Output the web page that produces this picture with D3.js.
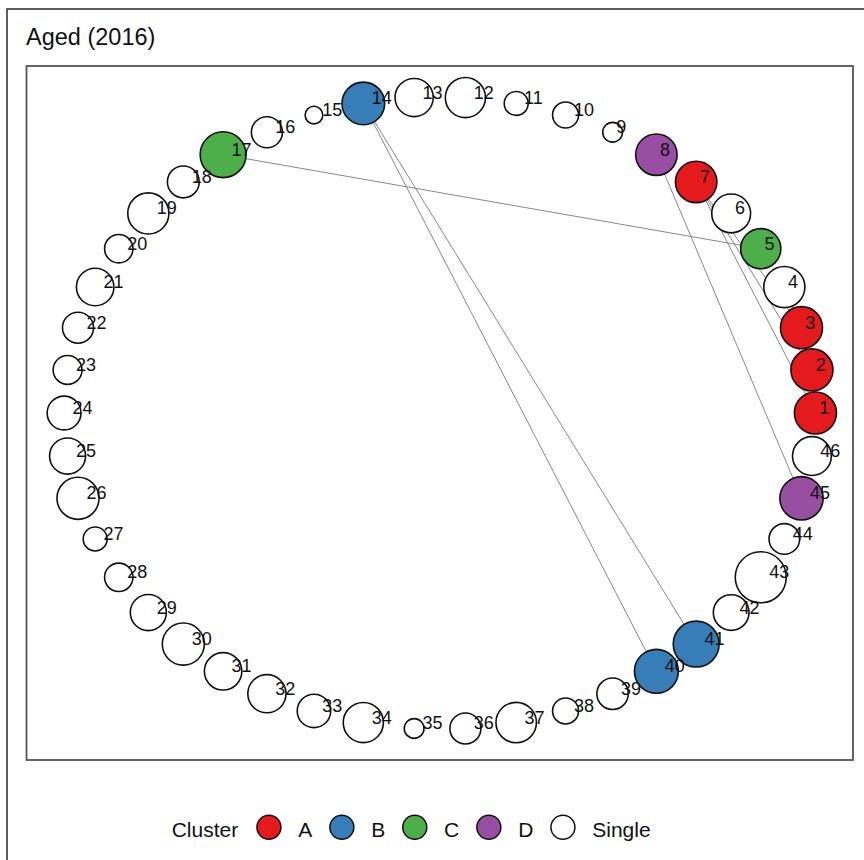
<!DOCTYPE html>
<html>
<head>
<meta charset="utf-8">
<script src="https://cdn.jsdelivr.net/npm/d3@7"></script>
<style>
  html, body { margin: 0; padding: 0; background: #fff; }
  svg { display: block; font-family: "Liberation Sans", Arial, Helvetica, sans-serif; }
</style>
</head>
<body>
<svg id="chart" width="864" height="860"></svg>
<script>
// Node ids, arranged around the circle in this order
const nodeIds = d3.range(1, 47);

// Node weight (drawn as circle area)
const nodeWeight = [
  68, 68, 68, 65, 62, 58, 66, 66, 15, 26,
  22, 62, 56, 70, 12, 37, 81, 39, 65, 31,
  54, 37, 32, 44, 50, 68, 22, 31, 50, 68,
  54, 56, 43, 62, 15, 37, 63, 26, 38, 74,
  81, 49, 100, 36, 72, 58
];

// Cluster membership of each node
const nodeCluster = [
  "A", "A", "A", "Single", "C", "Single", "A", "D", "Single", "Single",
  "Single", "Single", "Single", "B", "Single", "Single", "C", "Single", "Single", "Single",
  "Single", "Single", "Single", "Single", "Single", "Single", "Single", "Single", "Single", "Single",
  "Single", "Single", "Single", "Single", "Single", "Single", "Single", "Single", "Single", "B",
  "B", "Single", "Single", "Single", "D", "Single"
];

// Links between nodes
const edgeSource = [1, 1, 1, 2, 2, 3, 17, 14, 14, 40, 8];
const edgeTarget = [2, 3, 7, 3, 7, 7, 5, 40, 41, 41, 45];

const clusterNames = ["A", "B", "C", "D", "Single"];
const clusterColors = ["#E41A1C", "#377EB8", "#4DAF4A", "#984EA3", "#FFFFFF"];

const titleText = "Aged (2016)";
const legendTitle = "Cluster";

// ---- layout ----
const svg = d3.select("#chart");
const panel = { left: 26.5, top: 66, right: 853, bottom: 760 };

const n = nodeIds.length;
const nodes = nodeIds.map((id, i) => {
  const a = 2 * Math.PI * i / n;
  return { id, ux: Math.cos(a), uy: Math.sin(a), w: nodeWeight[i], cluster: nodeCluster[i] };
});

// data extents with 5% expansion on each side
function expanded(vals) {
  const [lo, hi] = d3.extent(vals);
  const pad = (hi - lo) * 0.05;
  return [lo - pad, hi + pad];
}
const x = d3.scaleLinear().domain(expanded(nodes.map(d => d.ux))).range([panel.left, panel.right]);
const y = d3.scaleLinear().domain(expanded(nodes.map(d => d.uy))).range([panel.bottom, panel.top]);
const r = d3.scaleSqrt().domain([0, 100]).range([0, 25.5]);
const color = d3.scaleOrdinal().domain(clusterNames).range(clusterColors);

// outer frame
svg.append("rect")
  .attr("x", 7).attr("y", 9).attr("width", 900).attr("height", 900)
  .attr("fill", "none").attr("stroke", "#2a2a2a").attr("stroke-width", 1.5);

// title
svg.append("text")
  .attr("x", 26).attr("y", 45)
  .attr("font-size", 23.5).attr("fill", "#111")
  .text(titleText);

// panel border
svg.append("rect")
  .attr("x", panel.left).attr("y", panel.top)
  .attr("width", panel.right - panel.left).attr("height", panel.bottom - panel.top)
  .attr("fill", "none").attr("stroke", "#555").attr("stroke-width", 1.8);

const byId = new Map(nodes.map(d => [d.id, d]));

// edges
svg.append("g").selectAll("line")
  .data(edgeSource.map((s, i) => [byId.get(s), byId.get(edgeTarget[i])]))
  .join("line")
  .attr("x1", d => x(d[0].ux)).attr("y1", d => y(d[0].uy))
  .attr("x2", d => x(d[1].ux)).attr("y2", d => y(d[1].uy))
  .attr("stroke", "#7a7a7a").attr("stroke-width", 0.9);

// nodes
svg.append("g").selectAll("circle")
  .data(nodes)
  .join("circle")
  .attr("cx", d => x(d.ux)).attr("cy", d => y(d.uy))
  .attr("r", d => r(d.w))
  .attr("fill", d => color(d.cluster))
  .attr("stroke", "#111").attr("stroke-width", 1.6);

// labels
const labels = svg.append("g").selectAll("text")
  .data(nodes)
  .join("text")
  .attr("font-size", 18).attr("fill", "#111")
  .attr("y", d => y(d.uy) + 1)
  .text(d => d.id);
labels.attr("x", function (d) {
  const w = this.getComputedTextLength();
  return x(d.ux) - 1 + 0.47 * w;
});

// legend
const lg = svg.append("g");
const ly = 827.3, lbase = 836.7;
let cx = 171.7;
const lt = lg.append("text").attr("x", cx).attr("y", lbase).attr("font-size", 21).attr("fill", "#111").text(legendTitle);
cx += lt.node().getComputedTextLength() + 18.7;
clusterNames.forEach(name => {
  lg.append("circle").attr("cx", cx + 12).attr("cy", ly).attr("r", 12)
    .attr("fill", color(name)).attr("stroke", "#111").attr("stroke-width", 1.5);
  cx += 24 + 17.3;
  const t = lg.append("text").attr("x", cx).attr("y", lbase).attr("font-size", 21).attr("fill", "#111").text(name);
  cx += t.node().getComputedTextLength() + 17.6;
});
</script>
</body>
</html>
